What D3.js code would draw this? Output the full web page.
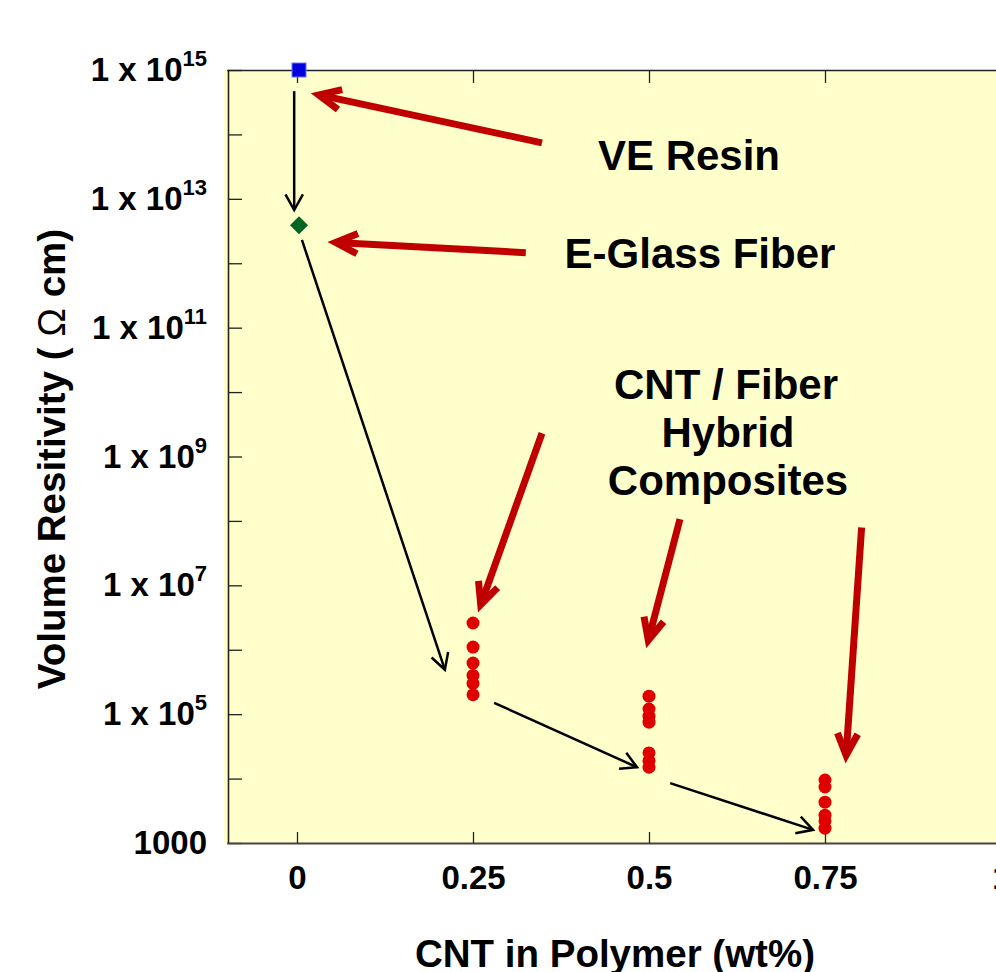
<!DOCTYPE html>
<html>
<head>
<meta charset="utf-8">
<script src="https://cdn.jsdelivr.net/npm/d3@7"></script>
<style>
  body { margin: 0; background: #fff; }
  svg { display: block; font-family: "Liberation Sans", Arial, sans-serif; font-weight: bold; }
</style>
</head>
<body>
<div id="chart"></div>
<script>
// measured points (wt% CNT, volume resistivity in ohm cm)
var resinX = [0], resinY = [1e15];
var glassX = [0], glassY = [3.9e12];
var cntX = [0.25, 0.25, 0.25, 0.25, 0.25, 0.25,
            0.5, 0.5, 0.5, 0.5, 0.5, 0.5, 0.5,
            0.75, 0.75, 0.75, 0.75, 0.75, 0.75];
var cntY = [2.6e6, 1.1e6, 6.2e5, 4.0e5, 3.0e5, 2.0e5,
            1.9e5, 1.2e5, 9.3e4, 7.5e4, 2.5e4, 1.9e4, 1.5e4,
            9.5e3, 7.4e3, 4.3e3, 2.7e3, 2.2e3, 1.7e3];

var xTicks = [0, 0.25, 0.5, 0.75, 1];
var yTicks = [1e3, 1e4, 1e5, 1e6, 1e7, 1e8, 1e9, 1e10, 1e11, 1e12, 1e13, 1e14, 1e15];
var yLabelled = [1e3, 1e5, 1e7, 1e9, 1e11, 1e13, 1e15];

// trend arrows (black) and callout arrows (red): [x0, y0, x1, y1] in data units
var trendArrows = [
  [-0.004, 4.7e14, -0.004, 6.7e12],
  [0.007, 2.3e12, 0.21, 4.9e5],
  [0.28, 1.5e5, 0.483, 1.5e4],
  [0.53, 8.5e3, 0.733, 1.6e3]
];
var calloutArrows = [
  [0.348, 7.4e13, 0.031, 4.1e14],
  [0.325, 1.46e12, 0.055, 2.1e12],
  [0.348, 2.3e9, 0.261, 5.0e6],
  [0.544, 1.07e8, 0.499, 1.4e6],
  [0.802, 7.9e7, 0.780, 2.3e4]
];

var svgW = 996, svgH = 972;
var plotL = 228, plotT = 70, plotB = 843;

var svg = d3.select("#chart").append("svg")
  .attr("width", svgW).attr("height", svgH);

var x = d3.scaleLinear().domain([-0.1, 1.1]).range([226.6, 226.6 + 1.2 * 704]);
var y = d3.scaleLog().domain([1e3, 1e15]).range([plotB, plotT]);

// plot background
svg.append("rect")
  .attr("x", plotL - 4).attr("y", plotT)
  .attr("width", svgW - plotL + 4).attr("height", plotB - plotT)
  .attr("fill", "#ffffcc");

// axes
var axisLeft = d3.axisLeft(y).tickValues(yTicks).tickSizeInner(-14).tickSizeOuter(0).tickFormat("");
var gy = svg.append("g").attr("transform", `translate(${plotL},0)`).call(axisLeft);

var axisTop = d3.axisTop(x).tickValues(xTicks).tickSizeInner(-13).tickSizeOuter(0).tickFormat("");
var gt = svg.append("g").attr("transform", `translate(0,${plotT})`).call(axisTop);

var axisBottom = d3.axisBottom(x).tickValues(xTicks).tickSizeInner(-11).tickSizeOuter(0)
  .tickPadding(23).tickFormat(d3.format(""));
var gx = svg.append("g").attr("transform", `translate(0,${plotB})`).call(axisBottom);

[gy, gt, gx].forEach(function(g) {
  g.select(".domain").attr("stroke", "#222").attr("stroke-width", 1.6);
  g.selectAll(".tick line").attr("stroke", "#222").attr("stroke-width", 1.3);
});
gx.select(".domain").attr("stroke", "#444").attr("stroke-width", 2);
gx.selectAll(".tick text")
  .attr("fill", "#000").attr("font-size", 33).attr("font-weight", "bold")
  .attr("font-family", "'Liberation Sans', Arial, sans-serif");

// y tick labels: 1 x 10^n
var ylab = svg.append("g").attr("font-size", 33);
yLabelled.forEach(function(v) {
  var e = Math.round(Math.log10(v));
  var t = ylab.append("text")
    .attr("x", 207).attr("y", y(v) + 11)
    .attr("text-anchor", "end");
  if (e === 3) {
    t.text("1000");
  } else {
    t.append("tspan").text("1 x 10");
    t.append("tspan").attr("font-size", 22).attr("dy", -15).text(e);
  }
});

// axis titles
svg.append("text")
  .attr("x", 615).attr("y", 967)
  .attr("text-anchor", "middle").attr("font-size", 38.5)
  .text("CNT in Polymer (wt%)");

var yt = svg.append("text")
  .attr("transform", "translate(65,459) rotate(-90)")
  .attr("text-anchor", "middle").attr("font-size", 38.5);
yt.append("tspan").text("Volume Resitivity ( ");
yt.append("tspan").attr("font-weight", "normal").text("Ω");
yt.append("tspan").text(" cm)");

// arrows
function arrow(g, a, color, w, head, ang) {
  var x0 = x(a[0]), y0 = y(a[1]), x1 = x(a[2]), y1 = y(a[3]);
  var th = Math.atan2(y0 - y1, x0 - x1);
  var r = ang * Math.PI / 180;
  g.append("line")
    .attr("x1", x0).attr("y1", y0).attr("x2", x1).attr("y2", y1)
    .attr("stroke", color).attr("stroke-width", w);
  g.append("path")
    .attr("d", d3.line()([
      [x1 + head * Math.cos(th + r), y1 + head * Math.sin(th + r)],
      [x1, y1],
      [x1 + head * Math.cos(th - r), y1 + head * Math.sin(th - r)]
    ]))
    .attr("fill", "none").attr("stroke", color).attr("stroke-width", w)
    .attr("stroke-linejoin", "miter");
}

var ga = svg.append("g");
trendArrows.forEach(function(a) { arrow(ga, a, "#000", 2.5, 18, 29); });
calloutArrows.forEach(function(a) { arrow(ga, a, "#c00000", 7, 24, 25); });

// points
svg.append("g").selectAll("circle")
  .data(cntX.map(function(d, i) { return [d, cntY[i]]; }))
  .join("circle")
  .attr("cx", function(d) { return x(d[0]); })
  .attr("cy", function(d) { return y(d[1]); })
  .attr("r", 6.5)
  .attr("fill", "#e00000");

var dia = 9;
svg.append("g").selectAll("path")
  .data(glassX.map(function(d, i) { return [d, glassY[i]]; }))
  .join("path")
  .attr("d", `M0,${-dia}L${dia},0L0,${dia}L${-dia},0Z`)
  .attr("transform", function(d) { return `translate(${x(d[0]) + 2},${y(d[1])})`; })
  .attr("fill", "#006622");

svg.append("g").selectAll("rect")
  .data(resinX.map(function(d, i) { return [d, resinY[i]]; }))
  .join("rect")
  .attr("x", function(d) { return x(d[0]) - 5; })
  .attr("y", function(d) { return y(d[1]) - 7; })
  .attr("width", 14).attr("height", 14)
  .attr("fill", "#0000dd").attr("stroke", "#6677ff").attr("stroke-width", 1);

// annotation labels
var notes = svg.append("g").attr("font-size", 42).attr("text-anchor", "middle");
notes.append("text").attr("x", 689).attr("y", 170).text("VE Resin");
notes.append("text").attr("x", 700).attr("y", 268).text("E-Glass Fiber");
notes.append("text").attr("x", 726).attr("y", 399).text("CNT / Fiber");
notes.append("text").attr("x", 728).attr("y", 447).text("Hybrid");
notes.append("text").attr("x", 728).attr("y", 495).text("Composites");
</script>
</body>
</html>
